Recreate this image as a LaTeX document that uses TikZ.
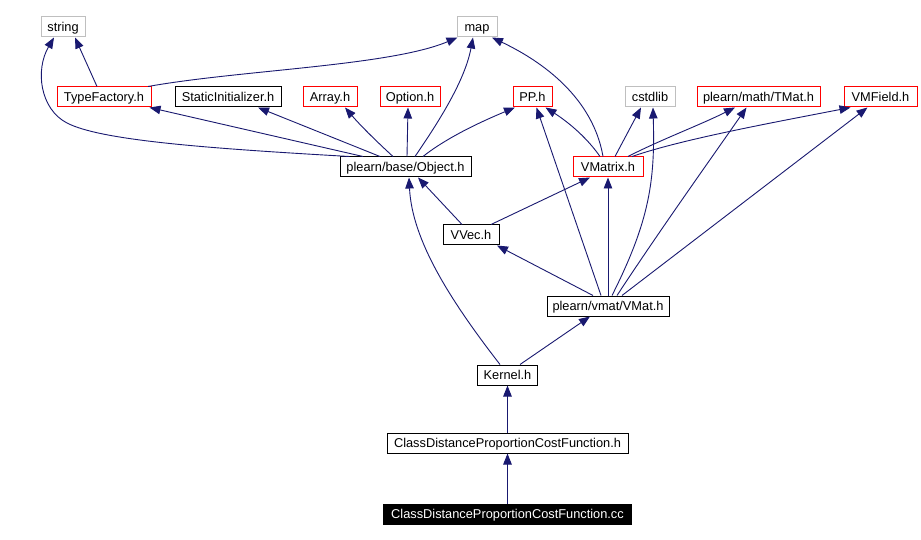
\documentclass[tikz,border=0pt]{standalone}
\usepackage{fontspec}
\setmainfont{Liberation Sans}
\usetikzlibrary{arrows.meta}
\definecolor{navy}{RGB}{25,25,112}
\definecolor{lgray}{RGB}{191,191,191}
\tikzset{
  nb/.style={draw, rectangle, minimum height=20pt, inner sep=0pt, line width=1pt,
    text height=9.6pt, text depth=0pt,
    text=black, font=\fontsize{12.8}{15}\selectfont},
  redb/.style={nb, draw=red},
  grayb/.style={nb, draw=lgray},
  blackb/.style={nb, draw=black},
  selb/.style={nb, draw=black, fill=black, text=white},
  dep/.style={draw=navy, line width=0.9pt, -{Triangle[length=11pt,width=8.5pt]}}
}
\begin{document}
\begin{tikzpicture}[x=1pt,y=-1pt]
\useasboundingbox[fill=white] (0,0) rectangle (921,540);
% nodes
\node[grayb, minimum width=44pt] (str) at (63,27) {string};
\node[grayb, minimum width=40pt] (map) at (477,27) {map};
\node[redb, minimum width=94pt] (tf) at (104,97) {TypeFactory.h};
\node[blackb, minimum width=106pt] (si) at (228,97) {StaticInitializer.h};
\node[redb, minimum width=54pt] (arr) at (330,97) {Array.h};
\node[redb, minimum width=60pt] (opt) at (410,97) {Option.h};
\node[redb, minimum width=39pt] (pp) at (532.5,97) {PP.h};
\node[grayb, minimum width=50pt] (cst) at (650,97) {cstdlib};
\node[redb, minimum width=123pt] (tmat) at (758.5,97) {plearn/math/TMat.h};
\node[redb, minimum width=73pt] (vmf) at (880.5,97) {VMField.h};
\node[blackb, minimum width=131pt] (obj) at (405.5,167) {plearn/base/Object.h};
\node[redb, minimum width=70pt] (vmx) at (608,167) {VMatrix.h};
\node[blackb, minimum width=56pt] (vvec) at (471,235) {VVec.h};
\node[blackb, minimum width=122pt] (vmat) at (608,306) {plearn/vmat/VMat.h};
\node[blackb, minimum width=60pt] (ker) at (507.5,375) {Kernel.h};
\node[blackb, minimum width=241pt] (cdh) at (507.5,443) {ClassDistanceProportionCostFunction.h};
\node[selb, minimum width=248pt] (cdcc) at (507.5,514) {ClassDistanceProportionCostFunction.cc};
% edges
\draw[dep] ([xshift=-7pt]tf.north) -- ([xshift=12pt]str.south);
\draw[dep] ([xshift=44pt]tf.north) .. controls (240,70) and (390,66) .. ([xshift=1pt]map.south west);
\draw[dep] ([xshift=-56pt]obj.north) .. controls (200,148) and (100,140) .. (67,123)
   .. controls (40,109) and (35,70) .. ([xshift=-9pt]str.south);
\draw[dep] ([xshift=-42.5pt]obj.north) -- ([xshift=-2pt]tf.south east);
\draw[dep] ([xshift=-25.5pt]obj.north) -- ([xshift=30pt]si.south);
\draw[dep] ([xshift=-12.5pt]obj.north) .. controls (375,140) and (360,125) .. ([xshift=15pt]arr.south);
\draw[dep] ([xshift=1.5pt]obj.north) -- ([xshift=-2pt]opt.south);
\draw[dep] ([xshift=9.5pt]obj.north) .. controls (440,120) and (465,80) .. ([xshift=-4pt]map.south);
\draw[dep] ([xshift=17.5pt]obj.north) .. controls (450,135) and (490,118) .. ([xshift=-17.5pt]pp.south);
\draw[dep] ([xshift=-5pt]vmx.north) .. controls (595,110) and (560,70) .. ([xshift=15pt]map.south);
\draw[dep] ([xshift=-8pt]vmx.north) .. controls (585,135) and (565,120) .. ([xshift=13pt]pp.south);
\draw[dep] ([xshift=7pt]vmx.north) -- ([xshift=-9pt]cst.south);
\draw[dep] ([xshift=20pt]vmx.north) .. controls (660,140) and (700,125) .. ([xshift=-23.5pt]tmat.south);
\draw[dep] ([xshift=24pt]vmx.north) .. controls (680,140) and (760,125) .. ([xshift=-30pt]vmf.south);
\draw[dep] ([xshift=-9pt]vvec.north) -- ([xshift=12.5pt]obj.south);
\draw[dep] ([xshift=20pt]vvec.north) -- ([xshift=-18pt]vmx.south);
\draw[dep] ([xshift=-15pt]vmat.north) -- ([xshift=26pt]vvec.south);
\draw[dep] ([xshift=-7pt]vmat.north) -- ([xshift=4pt]pp.south);
\draw[dep] (vmat.north) -- (vmx.south);
\draw[dep] ([xshift=4pt]vmat.north) .. controls (650,220) and (655,180) .. ([xshift=3pt]cst.south);
\draw[dep] ([xshift=9pt]vmat.north) .. controls (660,230) and (710,160) .. ([xshift=-12pt]tmat.south);
\draw[dep] ([xshift=14pt]vmat.north) -- ([xshift=-13pt]vmf.south);
\draw[dep] ([xshift=-7.5pt]ker.north) .. controls (450,300) and (412,240) .. ([xshift=3.5pt]obj.south);
\draw[dep] ([xshift=12.5pt]ker.north) -- ([xshift=-18pt]vmat.south);
\draw[dep] (cdh.north) -- (ker.south);
\draw[dep] (cdcc.north) -- (cdh.south);
\end{tikzpicture}
\end{document}
